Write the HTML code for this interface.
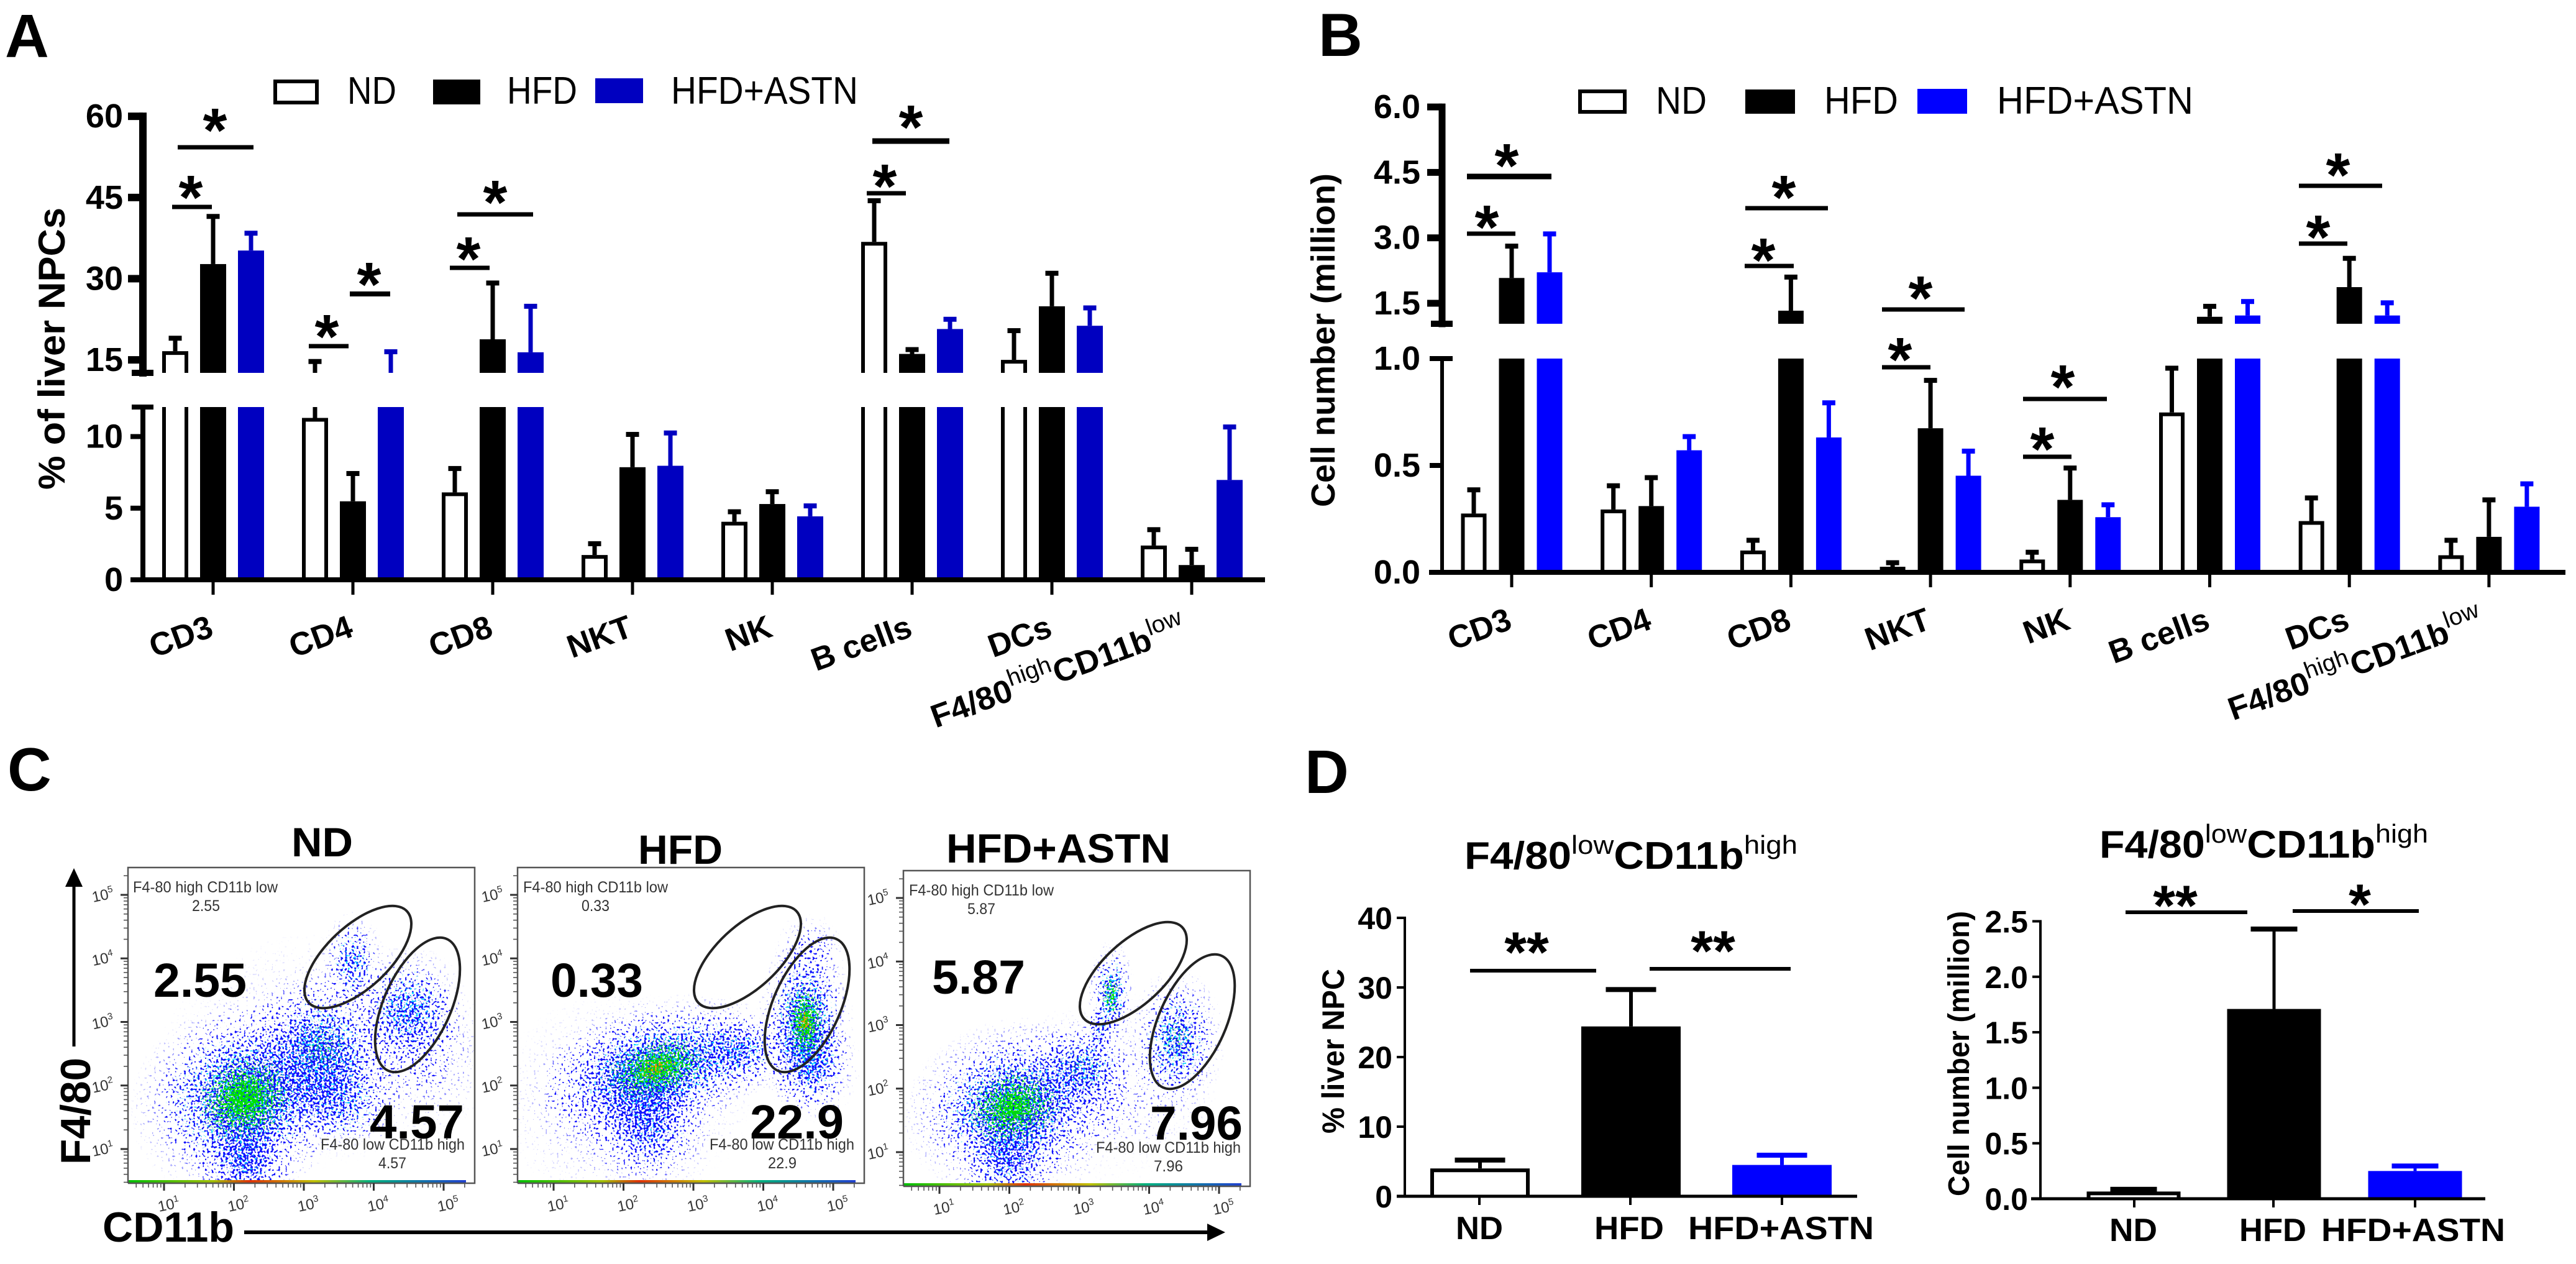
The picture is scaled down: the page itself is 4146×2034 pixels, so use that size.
<!DOCTYPE html>
<html lang="en">
<head>
<meta charset="utf-8">
<title>Liver NPC flow cytometry figure</title>
<style>
html,body{margin:0;padding:0;background:#fff;}
svg{display:block;font-family:"Liberation Sans",sans-serif;}
</style>
</head>
<body>
<svg id="fig" xmlns="http://www.w3.org/2000/svg" width="4146" height="2034" viewBox="0 0 4146 2034">
<rect width="4146" height="2034" fill="#fff"/>
<defs id="defs">
  <radialGradient id="blob"><stop offset="0" stop-color="#000" stop-opacity="1"/><stop offset=".25" stop-color="#000" stop-opacity=".8"/><stop offset=".5" stop-color="#000" stop-opacity=".42"/><stop offset=".75" stop-color="#000" stop-opacity=".14"/><stop offset="1" stop-color="#000" stop-opacity="0"/></radialGradient>
  <linearGradient id="band"><stop offset="0" stop-color="#00c000"/><stop offset=".25" stop-color="#a0c000"/><stop offset=".36" stop-color="#e03000"/><stop offset=".55" stop-color="#c0c000"/><stop offset=".72" stop-color="#00b080"/><stop offset="1" stop-color="#2040d0"/></linearGradient>
</defs>

<g font-weight="700" font-size="98" fill="#000">
  <text x="8" y="92">A</text>
  <text x="2122" y="90">B</text>
  <text x="12" y="1272">C</text>
  <text x="2100" y="1276">D</text>
</g>

<g font-size="62">
  <rect x="443" y="131" width="67" height="34" fill="#fff" stroke="#000" stroke-width="6"/>
  <text x="559" y="167" textLength="79" lengthAdjust="spacingAndGlyphs">ND</text>
  <rect x="697" y="128" width="76" height="40" fill="#000"/>
  <text x="816" y="167" textLength="113" lengthAdjust="spacingAndGlyphs">HFD</text>
  <rect x="958" y="126" width="77" height="40" fill="#0000c0"/>
  <text x="1080" y="167" textLength="301" lengthAdjust="spacingAndGlyphs">HFD+ASTN</text>
</g>
<g font-size="62">
  <rect x="2543" y="147" width="72" height="33" fill="#fff" stroke="#000" stroke-width="6"/>
  <text x="2665" y="183" textLength="82" lengthAdjust="spacingAndGlyphs">ND</text>
  <rect x="2809" y="144" width="80" height="39" fill="#000"/>
  <text x="2936" y="183" textLength="119" lengthAdjust="spacingAndGlyphs">HFD</text>
  <rect x="3086" y="143" width="80" height="40" fill="#0000ff"/>
  <text x="3214" y="183" textLength="316" lengthAdjust="spacingAndGlyphs">HFD+ASTN</text>
</g>

<text transform="translate(104,788) rotate(-90)" font-size="60" font-weight="700" textLength="454" lengthAdjust="spacingAndGlyphs">% of liver NPCs</text>
<text transform="translate(2148,816) rotate(-90)" font-size="54" font-weight="700" textLength="537" lengthAdjust="spacingAndGlyphs">Cell number (million)</text>
<text transform="translate(2163,1824) rotate(-90)" font-size="50" font-weight="700" textLength="265" lengthAdjust="spacingAndGlyphs">% liver NPC</text>
<text transform="translate(3169,1925) rotate(-90)" font-size="48" font-weight="700" textLength="459" lengthAdjust="spacingAndGlyphs">Cell number (million)</text>

<text x="2357" y="1398" font-size="62" font-weight="700" textLength="536" lengthAdjust="spacingAndGlyphs">F4/80<tspan font-size="42" font-weight="400" dy="-24">low</tspan><tspan dy="24">CD11b</tspan><tspan font-size="42" font-weight="400" dy="-24">high</tspan></text>
<text x="3379" y="1380" font-size="62" font-weight="700" textLength="529" lengthAdjust="spacingAndGlyphs">F4/80<tspan font-size="42" font-weight="400" dy="-24">low</tspan><tspan dy="24">CD11b</tspan><tspan font-size="42" font-weight="400" dy="-24">high</tspan></text>

<g font-weight="700" font-size="66">
  <text x="469" y="1378" textLength="99" lengthAdjust="spacingAndGlyphs">ND</text>
  <text x="1027" y="1390" textLength="136" lengthAdjust="spacingAndGlyphs">HFD</text>
  <text x="1523" y="1388" textLength="361" lengthAdjust="spacingAndGlyphs">HFD+ASTN</text>
</g>

<g id="flowLayers"></g>
<g id="flowFrames"></g>

<g font-weight="700" font-size="77">
  <text x="247" y="1604" textLength="150" lengthAdjust="spacingAndGlyphs">2.55</text>
  <text x="595" y="1832" textLength="152" lengthAdjust="spacingAndGlyphs">4.57</text>
  <text x="886" y="1604" textLength="149" lengthAdjust="spacingAndGlyphs">0.33</text>
  <text x="1207" y="1832" textLength="151" lengthAdjust="spacingAndGlyphs">22.9</text>
  <text x="1500" y="1599" textLength="150" lengthAdjust="spacingAndGlyphs">5.87</text>
  <text x="1851" y="1834" textLength="149" lengthAdjust="spacingAndGlyphs">7.96</text>
</g>
<g font-size="25" fill="#333">
  <text x="214" y="1436" textLength="233" lengthAdjust="spacingAndGlyphs">F4-80 high CD11b low</text>
  <text x="309" y="1466" textLength="45" lengthAdjust="spacingAndGlyphs">2.55</text>
  <text x="516" y="1850" textLength="232" lengthAdjust="spacingAndGlyphs">F4-80 low CD11b high</text>
  <text x="609" y="1880" textLength="45" lengthAdjust="spacingAndGlyphs">4.57</text>
  <text x="842" y="1436" textLength="233" lengthAdjust="spacingAndGlyphs">F4-80 high CD11b low</text>
  <text x="936" y="1466" textLength="45" lengthAdjust="spacingAndGlyphs">0.33</text>
  <text x="1142" y="1850" textLength="233" lengthAdjust="spacingAndGlyphs">F4-80 low CD11b high</text>
  <text x="1236" y="1880" textLength="46" lengthAdjust="spacingAndGlyphs">22.9</text>
  <text x="1463" y="1441" textLength="233" lengthAdjust="spacingAndGlyphs">F4-80 high CD11b low</text>
  <text x="1557" y="1471" textLength="45" lengthAdjust="spacingAndGlyphs">5.87</text>
  <text x="1764" y="1855" textLength="233" lengthAdjust="spacingAndGlyphs">F4-80 low CD11b high</text>
  <text x="1857" y="1885" textLength="47" lengthAdjust="spacingAndGlyphs">7.96</text>
</g>

<g>
  <line x1="119" y1="1684" x2="119" y2="1420" stroke="#000" stroke-width="5"/>
  <polygon points="119,1397 105,1427 133,1427" fill="#000"/>
  <text transform="translate(145,1874) rotate(-90)" font-size="68" font-weight="700" textLength="172" lengthAdjust="spacingAndGlyphs">F4/80</text>
</g>
<g>
  <text x="165" y="1998" font-size="68" font-weight="700" textLength="212" lengthAdjust="spacingAndGlyphs">CD11b</text>
  <line x1="393" y1="1983" x2="1950" y2="1983" stroke="#000" stroke-width="6"/>
  <polygon points="1972,1983 1943,1969 1943,1997" fill="#000"/>
</g>
<g id="charts"></g>
</svg>

<script>
/* ---------- Panel A data: % of liver NPCs ---------- */
const cellCategories = ['CD3', 'CD4', 'CD8', 'NKT', 'NK', 'B cells', 'DCs', 'F4/80 high CD11b low'];
const aNdValues = [16.6, 11.3, 6.1, 1.73, 4.05, 36.8, 15, 2.39];
const aNdTops = [19, 14.7, 7.77, 2.52, 4.75, 44.4, 20.4, 3.5];
const aHfdValues = [32.7, 5.48, 18.8, 7.86, 5.29, 16.1, 24.9, 1.03];
const aHfdTops = [41.5, 7.42, 29.2, 10.15, 6.15, 16.9, 31, 2.13];
const aAstnValues = [35.2, 12.3, 16.4, 7.96, 4.43, 20.7, 21.3, 6.97];
const aAstnTops = [38.4, 16.5, 24.9, 10.25, 5.16, 22.5, 24.6, 10.67];
const aUpperTicks = ['60', '45', '30', '15'];
const aLowerTicks = ['10', '5', '0'];

/* ---------- Panel B data: cell number (million) ---------- */
const bNdValues = [0.275, 0.294, 0.102, 0.026, 0.06, 0.748, 0.24, 0.08];
const bNdTops = [0.386, 0.405, 0.15, 0.045, 0.094, 0.955, 0.348, 0.15];
const bHfdValues = [2.08, 0.31, 1.33, 0.674, 0.339, 1.19, 1.87, 0.166];
const bHfdTops = [2.81, 0.443, 2.1, 0.898, 0.488, 1.43, 2.53, 0.339];
const bAstnValues = [2.21, 0.571, 0.631, 0.452, 0.258, 1.22, 1.22, 0.307];
const bAstnTops = [3.09, 0.635, 0.793, 0.567, 0.316, 1.54, 1.51, 0.414];
const bUpperTicks = ['6.0', '4.5', '3.0', '1.5'];
const bLowerTicks = ['1.0', '0.5', '0.0'];

/* ---------- Panel D data ---------- */
const dGroups = ['ND', 'HFD', 'HFD+ASTN'];
const dPercentValues = [4.0, 24.4, 4.5];
const dPercentTops = [5.2, 29.7, 5.9];
const dPercentTicks = ['0', '10', '20', '30', '40'];
const dCountValues = [0.065, 1.71, 0.25];
const dCountTops = [0.085, 2.43, 0.295];
const dCountTicks = ['0.0', '0.5', '1.0', '1.5', '2.0', '2.5'];

/* ---------- Panel C density clusters: log10 position, log-decade radii, tilt, layer strengths ---------- */
const flowColumns = ['logX', 'logY', 'radX', 'radY', 'tilt', 'blue', 'cyan', 'green', 'orange', 'red'];
const flowNd = [
  [2.83, 2.46, 1.9, 1.6, -30, 0.22, 0, 0, 0, 0],
  [4.7, 2.46, 0.9, 1.1, 0, 0.3, 0, 0, 0, 0],
  [2.15, 1.8, 1.45, 1.35, -20, 1, 0.85, 1, 0, 0],
  [2.18, 0.83, 0.65, 0.8, 0, 0.8, 0.3, 0, 0, 0],
  [3.25, 2.58, 0.95, 1.1, -20, 0.75, 0.6, 0.15, 0, 0],
  [3.5, 1.8, 0.9, 0.9, 0, 0.6, 0.35, 0, 0, 0],
  [4.5, 3.17, 0.75, 0.9, 0, 0.75, 0.5, 0, 0, 0],
  [3.7, 3.95, 0.4, 0.7, 0, 0.7, 0.45, 0, 0, 0]
];
const flowHfd = [
  [2.0, 1.77, 1.6, 1.5, 0, 0.3, 0, 0, 0, 0],
  [2.48, 2.27, 1.6, 0.95, -15, 1, 1, 0.9, 0.8, 0.1],
  [2.36, 1.39, 0.8, 0.9, 0, 0.7, 0.3, 0, 0, 0],
  [3.66, 2.55, 0.7, 0.6, 0, 0.7, 0.4, 0, 0, 0],
  [4.6, 2.99, 0.6, 1.25, 0, 1, 0.9, 0.9, 0.9, 0.5],
  [4.7, 2.33, 0.6, 0.8, 0, 0.7, 0.4, 0, 0, 0],
  [4.66, 4.09, 0.45, 0.55, 0, 0.4, 0, 0, 0, 0]
];
const flowAstn = [
  [3.16, 1.82, 1.6, 1.3, 0, 0.25, 0, 0, 0, 0],
  [2.05, 1.71, 1.4, 1.2, -15, 1, 0.8, 0.9, 0, 0],
  [1.99, 0.88, 0.7, 0.75, 0, 0.7, 0.3, 0, 0, 0],
  [3.05, 2.32, 0.7, 0.7, 0, 0.6, 0.45, 0.1, 0, 0],
  [3.46, 3.48, 0.3, 0.75, 0, 0.85, 0.8, 0.6, 0, 0],
  [3.28, 2.93, 0.2, 0.4, 0, 0.6, 0.2, 0, 0, 0],
  [4.4, 2.76, 0.6, 1.0, 0, 0.8, 0.55, 0.15, 0, 0]
];
const flowDecades = [1, 2, 3, 4, 5];
const flowMinorSteps = [2, 3, 4, 5, 6, 7, 8, 9];

const NS = 'http://www.w3.org/2000/svg';
function mk(tag, attrs, name, parent) {
  const el = document.createElementNS(NS, tag);
  for (const k in attrs) el.setAttribute(k, attrs[k]);
  
  
  parent.appendChild(el);
  return el;
}
function rectBetween(p, x1, x2, y1, y2, fill, name) {
  return mk('rect', {x: Math.min(x1, x2), y: Math.min(y1, y2), width: Math.abs(x2 - x1), height: Math.abs(y2 - y1), fill: fill}, name, p);
}
function label(p, s, x, y, size, weight, anchor, name) {
  const t = mk('text', {x: x, y: y, 'font-size': size, 'font-weight': weight, 'text-anchor': anchor}, name, p);
  t.textContent = s;
  return t;
}
function slug(s) { return s.replace(/[^A-Za-z0-9]+/g, '-').toLowerCase(); }

/* piecewise y axis with a break between lowMax and highMin */
function brokenScale(y0, lowPerUnit, lowMax, yHigh, highPerUnit, highMin) {
  return {
    lowMax: lowMax, highMin: highMin,
    y: function (v) { return v <= lowMax ? y0 - v * lowPerUnit : yHigh - (v - highMin) * highPerUnit; }
  };
}

function drawBrokenBar(g, sc, cx, w, value, top, kind, color, name) {
  const y = sc.y, L = cx - w / 2, R = cx + w / 2;
  const errW = 7, capW = 21, capT = 8;
  const errColor = kind === 'hollow' ? '#000' : color;
  const segs = [];
  if (value < sc.lowMax) segs.push([value, Math.min(top, sc.lowMax)]);
  if (top > sc.highMin) segs.push([Math.max(value, sc.highMin), top]);
  segs.forEach(function (s) {
    rectBetween(g, cx - errW / 2, cx + errW / 2, y(s[0]), y(s[1]), errColor, name + '-error-line');
  });
  rectBetween(g, cx - capW / 2, cx + capW / 2, y(top) - capT / 2, y(top) + capT / 2, errColor, name + '-error-cap');

  const lowTop = Math.min(value, sc.lowMax);
  const pieces = [[0, lowTop, value <= sc.lowMax]];
  if (value > sc.highMin) pieces.push([sc.highMin, value, true]);
  pieces.forEach(function (pc) {
    const yb = y(pc[0]), yt = y(pc[1]);
    if (kind === 'hollow') {
      const s = 6, d = pc[2]
        ? 'M' + (L + s / 2) + ' ' + yb + 'V' + (yt + s / 2) + 'H' + (R - s / 2) + 'V' + yb
        : 'M' + (L + s / 2) + ' ' + yb + 'V' + yt + 'M' + (R - s / 2) + ' ' + yt + 'V' + yb;
      mk('path', {d: d, fill: '#fff', stroke: '#000', 'stroke-width': s}, name, g);
    } else {
      rectBetween(g, L, R, yb, yt, color, name);
    }
  });
}

function drawBrokenChart(cfg) {
  const g = mk('g', {}, cfg.name, document.getElementById('charts'));
  const sc = cfg.scale, xPos = function (i) { return cfg.x0 + i * cfg.step; };
  const series = [
    ['nd', cfg.nd, cfg.ndTop, 'hollow', '#000', -cfg.offset],
    ['hfd', cfg.hfd, cfg.hfdTop, 'solid', '#000', 0],
    ['astn', cfg.astn, cfg.astnTop, 'solid', cfg.blue, cfg.offset]
  ];
  cfg.cats.forEach(function (c, i) {
    series.forEach(function (s) {
      drawBrokenBar(g, sc, xPos(i) + s[5], cfg.barW, s[1][i], s[2][i], s[3], s[4], 'bar-' + s[0] + '-' + slug(c));
    });
  });
  /* y axis */
  const ax = cfg.axisX;
  rectBetween(g, ax - cfg.upW / 2, ax + cfg.upW / 2, sc.y(+cfg.upperTicks[0]) - cfg.upW / 2, sc.y(sc.highMin) + cfg.upW / 2, '#000', 'y-axis-upper');
  rectBetween(g, ax - cfg.lowW / 2, ax + cfg.lowW / 2, sc.y(sc.lowMax), sc.y(0), '#000', 'y-axis-lower');
  rectBetween(g, ax - 18, ax + 17, sc.y(sc.highMin) - 5, sc.y(sc.highMin) + 5, '#000', 'y-axis-break-cap-upper');
  rectBetween(g, ax - 18, ax + 17, sc.y(sc.lowMax) - 4, sc.y(sc.lowMax) + 4, '#000', 'y-axis-break-cap-lower');
  cfg.upperTicks.forEach(function (t) {
    const y = sc.y(+t);
    rectBetween(g, ax - 24, ax, y - cfg.upW / 2, y + cfg.upW / 2, '#000', 'y-tick-' + t);
    label(g, t, cfg.labelRight, y + 18, 54, 700, 'end', 'y-tick-label-' + t);
  });
  cfg.lowerTicks.forEach(function (t) {
    const y = sc.y(+t);
    rectBetween(g, ax - 20, ax, y - 4, y + 4, '#000', 'y-tick-' + t);
    label(g, t, cfg.labelRight, y + 18, 54, 700, 'end', 'y-tick-label-' + t);
  });
  /* x axis */
  const y0 = sc.y(0);
  rectBetween(g, cfg.xStart, cfg.xEnd, y0 - 4, y0 + 4, '#000', 'x-axis');
  cfg.cats.forEach(function (c, i) {
    rectBetween(g, xPos(i) - 2.5, xPos(i) + 2.5, y0 + 4, y0 + 24, '#000', 'x-tick-' + slug(c));
    if (i === cfg.cats.length - 1) return;
    const t = label(g, c, 0, 0, 52, 700, 'end', 'x-tick-label-' + slug(c));
    t.setAttribute('transform', 'translate(' + (xPos(i) + 3) + ',' + (y0 + 90) + ') rotate(-20)');
  });
  const lng = mk('text', {'font-size': 52, 'font-weight': 700, 'text-anchor': 'end', textLength: 432, lengthAdjust: 'spacingAndGlyphs',
    transform: 'translate(' + (xPos(7) - 6) + ',' + (y0 + 91) + ') rotate(-20)'}, 'x-tick-label-f480-high-cd11b-low', g);
  lng.innerHTML = 'F4/80<tspan font-size="38" font-weight="400" dy="-22">high</tspan><tspan dy="22">CD11b</tspan><tspan font-size="38" font-weight="400" dy="-22">low</tspan>';
  return g;
}

function sig(g, x1, x2, y, thick, starCx, starTop, stars, size, name) {
  rectBetween(g, x1, x2, y - thick / 2, y + thick / 2, '#000', name + '-bar');
  label(g, stars, starCx, starTop + 0.73 * size, size, 700, 'middle', name + '-star');
}

const chartA = drawBrokenChart({
  name: 'chart-a', cats: cellCategories,
  nd: aNdValues, ndTop: aNdTops, hfd: aHfdValues, hfdTop: aHfdTops, astn: aAstnValues, astnTop: aAstnTops,
  upperTicks: aUpperTicks, lowerTicks: aLowerTicks,
  scale: brokenScale(933, 23.05, 12.06, 600, 8.71, 12.6),
  x0: 343, step: 225, offset: 61, barW: 42, axisX: 230, upW: 12, lowW: 8, labelRight: 198,
  xStart: 212, xEnd: 2036, blue: '#0000c0'
});
const chartB = drawBrokenChart({
  name: 'chart-b', cats: cellCategories,
  nd: bNdValues, ndTop: bNdTops, hfd: bHfdValues, hfdTop: bHfdTops, astn: bAstnValues, astnTop: bAstnTops,
  upperTicks: bUpperTicks, lowerTicks: bLowerTicks,
  scale: brokenScale(921, 344, 1.0, 521, 70.2, 1.03),
  x0: 2433, step: 224.7, offset: 61, barW: 41, axisX: 2321, upW: 11, lowW: 6, labelRight: 2286,
  xStart: 2300, xEnd: 4129, blue: '#0000ff'
});

[[277,341,333,7,307,279],[286,408,237,7,346,171],[497,561,557,7,526,503],[563,628,473,8,594,419],
 [724,788,431,7,754,378],[736,858,345,7,797,287],[1395,1458,311,7,1424,261],[1404,1528,227,9,1466,166]]
 .forEach(function (a) { sig(chartA, a[0], a[1], a[2], a[3], a[4], a[5], '*', 100, 'significance-a'); });
[[2361,2439,376,7,2393,327],[2361,2497,284,9,2425,228],[2808,2887,428,7,2838,380],[2809,2942,335,7,2871,279],
 [3029,3107,591,7,3058,540],[3029,3162,498,7,3091,441],[3256,3334,735,7,3287,684],[3256,3391,642,7,3320,584],
 [3700,3778,392,7,3731,343],[3700,3834,299,7,3763,243]]
 .forEach(function (a) { sig(chartB, a[0], a[1], a[2], a[3], a[4], a[5], '*', 100, 'significance-b'); });

/* ---------- Panel D simple charts ---------- */
function drawSimpleChart(cfg) {
  const g = mk('g', {}, cfg.name, document.getElementById('charts'));
  const y = function (v) { return cfg.y0 - v * cfg.perUnit; };
  const colors = ['#fff', '#000', '#0000ff'];
  cfg.groups.forEach(function (c, i) {
    const cx = cfg.centers[i], L = cx - cfg.barW / 2, R = cx + cfg.barW / 2;
    const col = i === 1 ? '#000' : colors[i];
    const capColor = i === 0 ? '#000' : col;
    rectBetween(g, cx - cfg.errW / 2, cx + cfg.errW / 2, y(cfg.values[i]), y(cfg.tops[i]), capColor, 'error-line-' + slug(c));
    rectBetween(g, cx - cfg.capW / 2, cx + cfg.capW / 2, y(cfg.tops[i]) - 4, y(cfg.tops[i]) + 4, capColor, 'error-cap-' + slug(c));
    if (i === 0) {
      mk('path', {d: 'M' + (L + 3) + ' ' + cfg.y0 + 'V' + (y(cfg.values[i]) + 3) + 'H' + (R - 3) + 'V' + cfg.y0,
        fill: '#fff', stroke: '#000', 'stroke-width': 6}, 'bar-' + slug(c), g);
    } else {
      rectBetween(g, L, R, cfg.y0, y(cfg.values[i]), col, 'bar-' + slug(c));
    }
    rectBetween(g, cfg.ticks[i] - 2, cfg.ticks[i] + 2, cfg.y0, cfg.y0 + 14, '#000', 'x-tick-' + slug(c));
    const t = label(g, c, cfg.labelX[i], cfg.labelY, 52, 700, 'start', 'x-tick-label-' + slug(c));
    t.setAttribute('textLength', cfg.labelW[i]);
    t.setAttribute('lengthAdjust', 'spacingAndGlyphs');
  });
  rectBetween(g, cfg.axisX - 2, cfg.axisX + 2, y(+cfg.tickLabels[cfg.tickLabels.length - 1]) - 2, cfg.y0, '#000', 'y-axis');
  rectBetween(g, cfg.xStart, cfg.xEnd, cfg.y0 - 2.5, cfg.y0 + 2.5, '#000', 'x-axis');
  cfg.tickLabels.forEach(function (t) {
    const yy = y(+t);
    rectBetween(g, cfg.axisX - 13, cfg.axisX, yy - 2, yy + 2, '#000', 'y-tick-' + t);
    label(g, t, cfg.labelRight, yy + 18, 50, 700, 'end', 'y-tick-label-' + t);
  });
  return g;
}
const chartD1 = drawSimpleChart({
  name: 'chart-d-percent', groups: dGroups, values: dPercentValues, tops: dPercentTops, tickLabels: dPercentTicks,
  y0: 1925, perUnit: 11.2, centers: [2382, 2625, 2868], ticks: [2381, 2624, 2868], barW: 160, errW: 6, capW: 81,
  axisX: 2261, xStart: 2248, xEnd: 2989, labelRight: 2241, labelY: 1994,
  labelX: [2343, 2566, 2717], labelW: [76, 112, 299]
});
const chartD2 = drawSimpleChart({
  name: 'chart-d-count', groups: dGroups, values: dCountValues, tops: dCountTops, tickLabels: dCountTicks,
  y0: 1929, perUnit: 178.6, centers: [3434, 3660, 3887], ticks: [3435, 3659, 3887], barW: 151, errW: 5, capW: 75,
  axisX: 3284, xStart: 3269, xEnd: 4000, labelRight: 3264, labelY: 1997,
  labelX: [3395, 3604, 3736], labelW: [77, 108, 296]
});
sig(chartD1, 2366, 2569, 1562, 6, 2457, 1497, '**', 92, 'significance-d-left-1');
sig(chartD1, 2655, 2882, 1559, 6, 2757, 1495, '**', 92, 'significance-d-left-2');
sig(chartD2, 3421, 3617, 1468, 6, 3501, 1422, '**', 92, 'significance-d-right-1');
sig(chartD2, 3690, 3893, 1466, 6, 3798, 1420, '*', 92, 'significance-d-right-2');

/* ---------- Panel C flow plots ---------- */
const plots = [
  {name: 'nd', left: 206, top: 1396, data: flowNd, gates: [[370, 144], [466, 221]]},
  {name: 'hfd', left: 833, top: 1396, data: flowHfd, gates: [[370, 144], [466, 221]]},
  {name: 'astn', left: 1454, top: 1401, data: flowAstn, gates: [[370, 165], [465, 243]]}
];
const PW = 558, PH = 508;
function fx(p, v) { return p.left + 58 + (v - 1) * 112.5; }
function fy(p, v) { return p.top + 453 - (v - 1) * 102.25; }

const layers = [
  {key: 'blue', color: '#1010ff', seed: 3, freq: 0.27, col: 5, f: 1.16, gain: 0.66},
  {key: 'cyan', color: '#00d4ff', seed: 11, freq: 0.3, col: 6, f: 0.82, gain: 0.55},
  {key: 'green', color: '#00e000', seed: 23, freq: 0.33, col: 7, f: 0.52, gain: 0.88},
  {key: 'orange', color: '#ff9a00', seed: 31, freq: 0.33, col: 8, f: 0.24, gain: 0.6},
  {key: 'red', color: '#ff2a00', seed: 37, freq: 0.33, col: 9, f: 0.12, gain: 0.5}
];
const defs = document.getElementById('defs');
let defsMarkup = '';
plots.forEach(function (p) {
  defsMarkup += '<clipPath id="clip-' + p.name + '"><rect x="' + p.left + '" y="' + p.top + '" width="' + PW + '" height="' + PH + '"/></clipPath>';
});
layers.forEach(function (l) {
  defsMarkup += '<filter id="sp-' + l.key + '" filterUnits="userSpaceOnUse" x="200" y="1390" width="1820" height="530" color-interpolation-filters="sRGB">' +
    '<feTurbulence type="fractalNoise" baseFrequency="' + l.freq + '" numOctaves="1" seed="' + l.seed + '" result="n"/>' +
    '<feColorMatrix in="n" type="matrix" values="0 0 0 0 0  0 0 0 0 0  0 0 0 0 0  2.6 0 0 0 -0.8" result="na"/>' +
    '<feComposite in="SourceAlpha" in2="na" operator="arithmetic" k1="0" k2="1" k3="1" k4="-1" result="m"/>' +
    '<feComponentTransfer in="m" result="mm"><feFuncA type="linear" slope="7"/></feComponentTransfer>' +
    '<feFlood flood-color="' + l.color + '" result="f"/>' +
    '<feComposite in="f" in2="mm" operator="in"/></filter>';
});
defs.insertAdjacentHTML('beforeend', defsMarkup);

const flowLayers = document.getElementById('flowLayers');
layers.forEach(function (l) {
  const lg = mk('g', {filter: 'url(#sp-' + l.key + ')'}, 'density-layer-' + l.key, flowLayers);
  plots.forEach(function (p) {
    const pg = mk('g', {'clip-path': 'url(#clip-' + p.name + ')'}, 'density-' + p.name, lg);
    p.data.forEach(function (c) {
      const strength = c[l.col];
      if (!strength) return;
      const cx = fx(p, c[0]), cy = fy(p, c[1]);
      mk('ellipse', {cx: cx, cy: cy, rx: c[2] * 112.5 * l.f, ry: c[3] * 102.25 * l.f, fill: 'url(#blob)', opacity: strength * l.gain,
        transform: 'rotate(' + c[4] + ' ' + cx + ' ' + cy + ')'}, 'density-cluster', pg);
    });
  });
});

const frames = document.getElementById('flowFrames');
plots.forEach(function (p) {
  const g = mk('g', {}, 'flow-plot-' + p.name, frames);
  mk('rect', {x: p.left + 305, y: p.top + 432, width: 240, height: 72, fill: '#fff', opacity: 0.72}, 'label-wash', g);
  mk('rect', {x: p.left, y: p.top + PH - 5, width: PW - 14, height: 6, fill: 'url(#band)'}, 'axis-event-band', g);
  mk('path', {d: 'M' + p.left + ' ' + (p.top + PH) + 'V' + p.top + 'H' + (p.left + PW) + 'V' + (p.top + PH) + 'H' + p.left,
    fill: 'none', stroke: '#555', 'stroke-width': 2.5}, 'plot-frame', g);
  const yBottom = p.top + PH, xLeft = p.left;
  flowDecades.forEach(function (d) {
    const x = fx(p, d), y = fy(p, d);
    mk('line', {x1: x, x2: x, y1: yBottom, y2: yBottom + 12, stroke: '#333', 'stroke-width': 3}, 'x-major-tick', g);
    mk('line', {x1: xLeft - 12, x2: xLeft, y1: y, y2: y, stroke: '#333', 'stroke-width': 3}, 'y-major-tick', g);
    flowMinorSteps.forEach(function (m) {
      const lx = fx(p, d + Math.log10(m)), ly = fy(p, d + Math.log10(m));
      if (lx < p.left + PW) mk('line', {x1: lx, x2: lx, y1: yBottom, y2: yBottom + 7, stroke: '#555', 'stroke-width': 1.6}, 'x-minor-tick', g);
      if (ly > p.top) mk('line', {x1: xLeft - 7, x2: xLeft, y1: ly, y2: ly, stroke: '#555', 'stroke-width': 1.6}, 'y-minor-tick', g);
      const lx0 = fx(p, d - 1 + Math.log10(m)), ly0 = fy(p, d - 1 + Math.log10(m));
      if (d === 1 && lx0 > p.left) mk('line', {x1: lx0, x2: lx0, y1: yBottom, y2: yBottom + 7, stroke: '#555', 'stroke-width': 1.6}, 'x-minor-tick', g);
      if (d === 1 && ly0 < yBottom) mk('line', {x1: xLeft - 7, x2: xLeft, y1: ly0, y2: ly0, stroke: '#555', 'stroke-width': 1.6}, 'y-minor-tick', g);
    });
    const tx = mk('text', {'font-size': 24, fill: '#333', transform: 'translate(' + (x - 8) + ',' + (yBottom + 46) + ') rotate(-12)'}, 'x-tick-label', g);
    tx.innerHTML = '10<tspan font-size="15" dy="-10">' + d + '</tspan>';
    const ty = mk('text', {'font-size': 24, fill: '#333', transform: 'translate(' + (xLeft - 56) + ',' + (y + 12) + ') rotate(-12)'}, 'y-tick-label', g);
    ty.innerHTML = '10<tspan font-size="15" dy="-10">' + d + '</tspan>';
  });
  const upper = p.gates[0], lower = p.gates[1];
  const ux = p.left + upper[0], uy = p.top + upper[1], lx = p.left + lower[0], ly = p.top + lower[1];
  mk('ellipse', {cx: ux, cy: uy, rx: 50, ry: 108, fill: 'none', stroke: '#222', 'stroke-width': 4, transform: 'rotate(47 ' + ux + ' ' + uy + ')'}, 'gate-f480-high', g);
  mk('ellipse', {cx: lx, cy: ly, rx: 54, ry: 116, fill: 'none', stroke: '#222', 'stroke-width': 4, transform: 'rotate(24 ' + lx + ' ' + ly + ')'}, 'gate-f480-low', g);
});
</script>
</body>
</html>
